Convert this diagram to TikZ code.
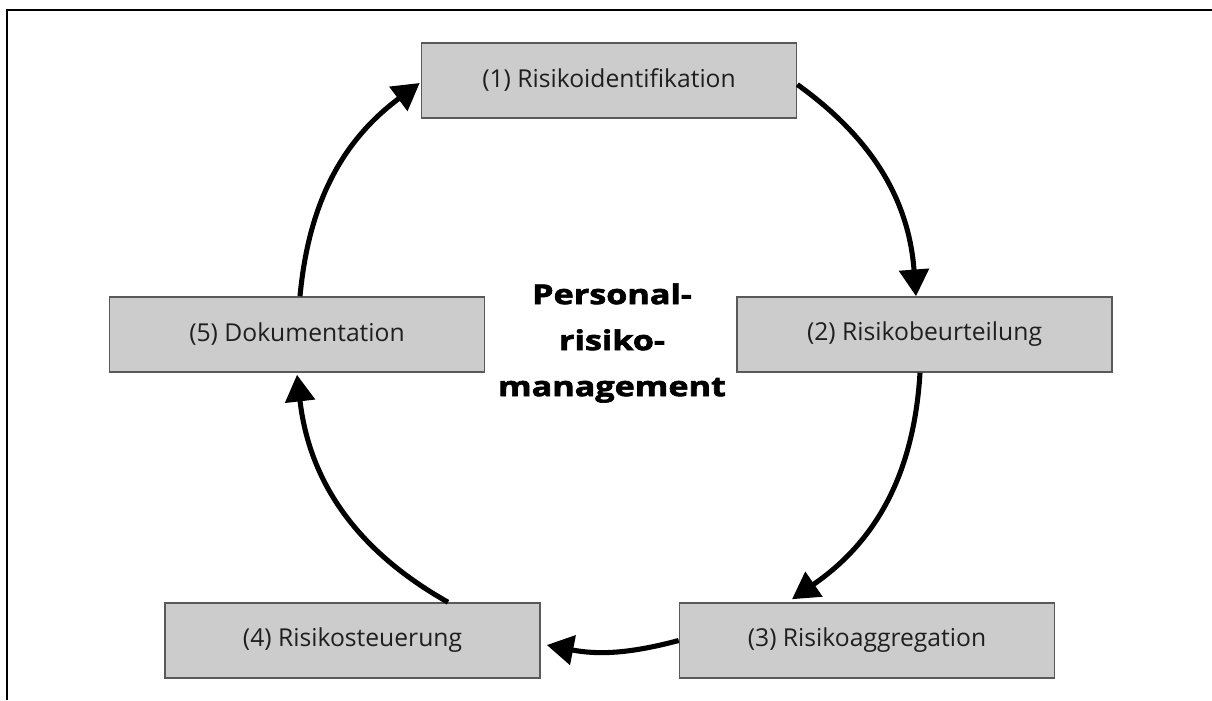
\documentclass[tikz,border=0pt]{standalone}
\usepackage{fontspec}
\setmainfont{Open Sans}
\newfontfamily\heavyfont[FakeStretch=1.25,FakeBold=2.4]{Open Sans}
\usetikzlibrary{arrows.meta,calc}
\begin{document}
\begin{tikzpicture}[x=0.75pt,y=-0.75pt,
  stepbox/.style={draw=black!65, line width=1.2pt, fill=black!20,
    minimum width=281.25pt, minimum height=56.25pt, inner sep=0pt,
    font=\fontsize{18.5}{22}\selectfont, text=black!88},
  flow/.style={line width=3.8pt, -{Triangle[length=20pt,width=22pt]}},
  title/.style={align=center, font=\heavyfont\fontsize{20.5}{34.5}\selectfont\bfseries},
  frame/.style={line width=1.5pt}
]
\useasboundingbox (0,0) rectangle (1212,700);
\draw[frame] (1212,10) -- (7,10) -- (7,700);

\node[stepbox] (b1) at (609,80.5) {(1) Risikoidentifikation};
\node[stepbox] (b2) at (924.5,334.5) {(2) Risikobeurteilung};
\node[stepbox] (b3) at (867,640.5) {(3) Risikoaggregation};
\node[stepbox] (b4) at (352.5,640.5) {(4) Risikosteuerung};
\node[stepbox] (b5) at (297,334.5) {(5) Dokumentation};

\node[title] (t) at (612,343) {Personal-\\risiko-\\management};

\draw[flow] ($(b1.east)+(0,4)$) to[bend left=25] ($(b2.north)+(-8.5,0)$);
\draw[flow] ($(b2.south)+(-4.5,0)$) to[bend left=26] ($(b3.north)+(-75,-3)$);
\draw[flow] (b3.west) to[bend left=13] ($(b4.east)+(6,4.5)$);
\draw[flow] ($(b4.north)+(95.5,0)$) to[bend left=27] ($(b5.south)+(0,2)$);
\draw[flow] ($(b5.north)+(3,0)$) to[bend left=24] ($(b1.west)+(-1,2.5)$);
\end{tikzpicture}
\end{document}
